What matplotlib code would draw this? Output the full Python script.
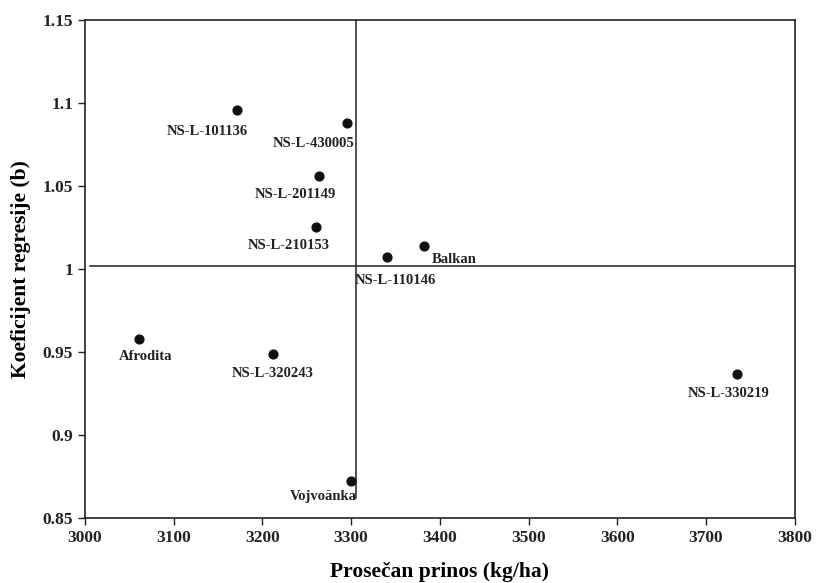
import matplotlib.pyplot as plt

# Podaci: prosecan prinos i koeficijent regresije
sorte = ['NS-L-101136', 'NS-L-430005', 'NS-L-201149', 'NS-L-210153',
         'NS-L-110146', 'Balkan', 'Afrodita', 'NS-L-320243',
         'Vojvoănka', 'NS-L-330219']
prinos = [3172, 3295, 3264, 3260, 3340, 3382, 3061, 3212, 3300, 3735]
koef_b = [1.096, 1.088, 1.056, 1.025, 1.007, 1.014, 0.958, 0.949, 0.872, 0.937]

# pomaci natpisa (u tackama)
pomak = [(-22, -16), (-24, -15), (-17, -13), (-19, -13), (6, -17),
         (22, -10), (5, -13), (0, -14), (-20, -11), (-6, -14)]

prosek_x = 3306
prosek_y = 1.002

plt.rcParams['font.family'] = ['Liberation Serif', 'DejaVu Serif']
plt.rcParams['font.weight'] = 'bold'

fig = plt.figure(figsize=(8.16, 5.83), dpi=100)
ax = fig.add_axes([0.104, 0.1115, 0.870, 0.8542])

ax.scatter(prinos, koef_b, s=40, color='#111111', zorder=3)
for ime, x, y, d in zip(sorte, prinos, koef_b, pomak):
    ax.annotate(ime, (x, y), xytext=d, textcoords='offset points',
                ha='center', va='center', fontsize=10.5, fontweight='bold',
                color='#222222')

ax.axvline(prosek_x, ymin=0.04, ymax=1, color='#222222', lw=1.1)
ax.axhline(prosek_y, xmin=0.007, xmax=1, color='#222222', lw=1.1)

ax.set_xlim(3000, 3800)
ax.set_ylim(0.85, 1.15)
ax.set_xticks(range(3000, 3801, 100))
ax.set_yticks([0.85, 0.9, 0.95, 1.0, 1.05, 1.1, 1.15])
ax.set_yticklabels(['0.85', '0.9', '0.95', '1', '1.05', '1.1', '1.15'])
ax.tick_params(direction='out', length=5, width=1.0, labelsize=12.5, colors='#222222')

for s in ax.spines.values():
    s.set_linewidth(1.2)
    s.set_color('#222222')

ax.set_xlabel('Prosečan prinos (kg/ha)', fontsize=15.5, fontweight='bold', labelpad=12)
ax.set_ylabel('Koeficijent regresije (b)', fontsize=15.5, fontweight='bold', labelpad=8)

fig.savefig('out.png', dpi=100)
